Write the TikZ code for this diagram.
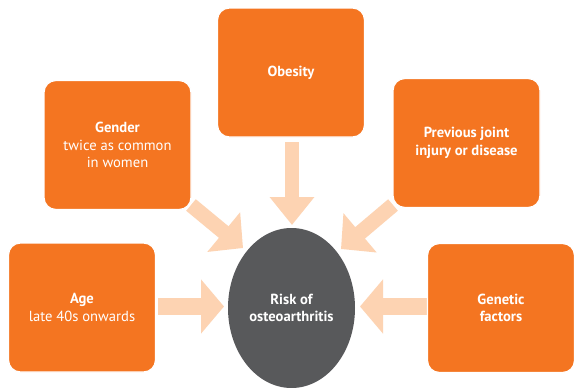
\documentclass[tikz,border=0pt]{standalone}
\usepackage{fontspec}
\setmainfont{PT Sans}
\usetikzlibrary{arrows.meta,shapes.geometric}
\definecolor{boxorange}{HTML}{F47521}
\definecolor{hubgray}{HTML}{58595B}
\definecolor{peach}{HTML}{FDD3B2}
\begin{document}
\begin{tikzpicture}[x=1pt,y=-1pt,
  factor/.style={fill=boxorange, draw=white, line width=1.2pt, rounded corners=12pt,
    minimum width=147pt, minimum height=129pt, inner sep=0pt, align=center,
    text=white, font=\fontsize{14.6}{17.5}\selectfont},
  hub/.style={ellipse, fill=hubgray, minimum width=127pt, minimum height=160pt,
    inner sep=0pt, align=center, text=white, font=\fontsize{14.6}{17.5}\selectfont\bfseries},
  fat/.style n args={3}{draw=peach, line width=#1,
    -{Triangle[width=#2, length=#3, fill=peach]}}
]
\useasboundingbox (0,0) rectangle (574,388);
\fill[white] (0,0) rectangle (574,388);

% arrow end points
\coordinate (obS) at (292,142);
\coordinate (obT) at (292,225);
\coordinate (agS) at (158,306.5);
\coordinate (agT) at (224,306.5);
\coordinate (geS) at (427,306.5);
\coordinate (geT) at (360,306.5);
\coordinate (gdS) at (191,205);
\coordinate (gdT) at (243,248);
\coordinate (prS) at (393,205);
\coordinate (prT) at (341,249);

\draw[fat={14pt}{43pt}{28pt}] (obS) -- (obT);
\draw[fat={17pt}{53pt}{23pt}] (agS) -- (agT);
\draw[fat={17pt}{53pt}{23pt}] (geS) -- (geT);
\draw[fat={15pt}{50pt}{25pt}] (gdS) -- (gdT);
\draw[fat={15pt}{50pt}{25pt}] (prS) -- (prT);

\node[hub] (risk) at (291.5,308) {Risk of\\osteoarthritis};

\node[factor] (obesity) at (291,72.5) {\textbf{Obesity}};
\node[factor] (gender) at (117.5,145) {\textbf{Gender}\\twice as common\\in women};
\node[factor] (previous) at (466.5,143) {\textbf{Previous joint}\\\textbf{injury or disease}};
\node[factor] (age) at (82,307.5) {\textbf{Age}\\late 40s onwards};
\node[factor] (genetic) at (501,308) {\textbf{Genetic}\\\textbf{factors}};
\end{tikzpicture}
\end{document}
